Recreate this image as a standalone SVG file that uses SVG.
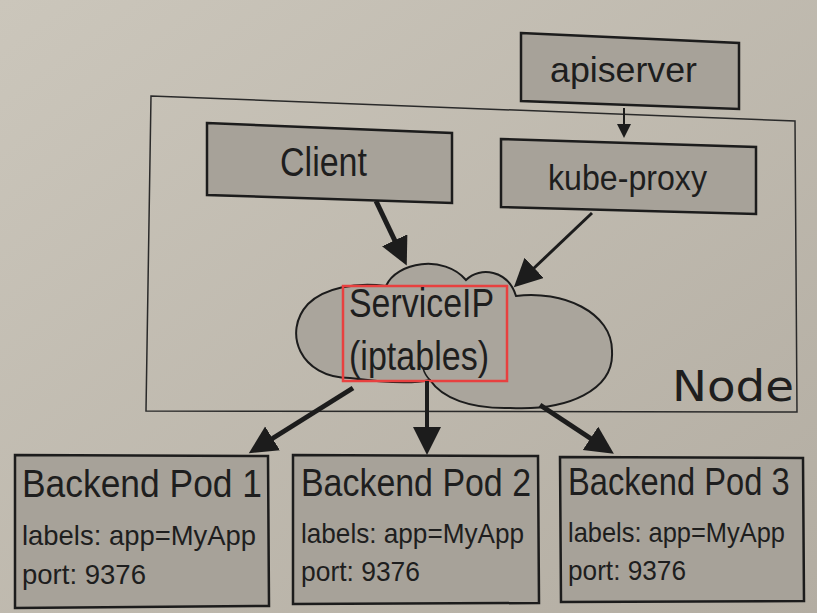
<svg xmlns="http://www.w3.org/2000/svg" width="817" height="613" viewBox="0 0 817 613">
<defs>
<linearGradient id="bg" x1="0" y1="0" x2="1" y2="1">
<stop offset="0" stop-color="#cbc6bb"/>
<stop offset="1" stop-color="#b3ada2"/>
</linearGradient>
<marker id="big" markerUnits="userSpaceOnUse" markerWidth="30" markerHeight="30" refX="3" refY="14" orient="auto">
<path d="M0,0 L28,14 L0,28 z" fill="#1c1c1c"/>
</marker>
<marker id="small" markerUnits="userSpaceOnUse" markerWidth="16" markerHeight="16" refX="2" refY="7" orient="auto">
<path d="M0,0 L14,7 L0,14 z" fill="#1c1c1c"/>
</marker>
</defs>
<style>
.box{fill:#a7a299;stroke:#1c1c1c;stroke-width:2.5}
.t{font-family:"Liberation Sans",Arial,sans-serif;fill:#1e1e1e}
.big{font-size:40px}
.pod{font-size:38px}
.mid{font-size:35px}
.sm{font-size:28px}
.conn{stroke:#1c1c1c;fill:none}
</style>
<rect x="0" y="0" width="817" height="613" fill="url(#bg)"/>

<g id="node-container">
<polygon points="151,96 795,121 797,412 146,411" fill="none" stroke="#2a2a2a" stroke-width="1.5"/>
<text x="672" y="401" font-size="42" textLength="122" lengthAdjust="spacingAndGlyphs" style="font-family:'DejaVu Sans',sans-serif;fill:#1e1e1e">Node</text>
</g>

<g id="apiserver">
<polygon class="box" points="521,33 739,43 739,109 521,101"/>
<text class="t mid" x="550" y="82" textLength="147" lengthAdjust="spacingAndGlyphs">apiserver</text>
</g>

<g id="client">
<polygon class="box" points="207,123 452,133 452,203 207,195"/>
<text class="t big" x="280" y="176" textLength="87" lengthAdjust="spacingAndGlyphs">Client</text>
</g>

<g id="kube-proxy">
<polygon class="box" points="501,139 756,147 756,214 501,207"/>
<text class="t mid" x="548" y="190" textLength="159" lengthAdjust="spacingAndGlyphs">kube-proxy</text>
</g>

<g id="serviceip">
<path d="M350,378 C300,378 282,332 308,304 C324,288 355,282 386,286 C396,262 444,254 466,280 C480,266 508,270 516,296 C562,290 613,312 612,352 C614,390 568,411 510,408 C470,409 442,398 430,380 C412,384 380,382 350,378 Z" fill="#aaa59c" stroke="#1c1c1c" stroke-width="2"/>
<path d="M430,380 C426,376 424,372 423,368" fill="none" stroke="#1c1c1c" stroke-width="1.5"/>
<rect x="343" y="286" width="164" height="95" fill="none" stroke="#e8403f" stroke-width="2.5"/>
<text class="t big" x="349" y="317" textLength="145" lengthAdjust="spacingAndGlyphs">ServiceIP</text>
<text class="t big" x="349" y="370" textLength="140" lengthAdjust="spacingAndGlyphs">(iptables)</text>
</g>

<g id="pod1">
<polygon class="box" points="15,455 268,456 269,606 15,608"/>
<text class="t pod" x="22" y="497" textLength="240" lengthAdjust="spacingAndGlyphs">Backend Pod 1</text>
<text class="t sm" x="22" y="545" textLength="234" lengthAdjust="spacingAndGlyphs">labels: app=MyApp</text>
<text class="t sm" x="22" y="584" textLength="124" lengthAdjust="spacingAndGlyphs">port: 9376</text>
</g>

<g id="pod2">
<polygon class="box" points="293,455 538,456 539,603 293,604"/>
<text class="t pod" x="301" y="496" textLength="230" lengthAdjust="spacingAndGlyphs">Backend Pod 2</text>
<text class="t sm" x="301" y="543" textLength="223" lengthAdjust="spacingAndGlyphs">labels: app=MyApp</text>
<text class="t sm" x="301" y="581" textLength="119" lengthAdjust="spacingAndGlyphs">port: 9376</text>
</g>

<g id="pod3">
<polygon class="box" points="560,457 803,458 804,601 561,602"/>
<text class="t pod" transform="translate(568,495) scale(0.86,1)" x="0" y="0">Backend Pod 3</text>
<text class="t sm" x="568" y="542" textLength="217" lengthAdjust="spacingAndGlyphs">labels: app=MyApp</text>
<text class="t sm" x="568" y="580" textLength="118" lengthAdjust="spacingAndGlyphs">port: 9376</text>
</g>

<g id="connectors">
<line class="conn" x1="624" y1="108" x2="624" y2="126" stroke-width="2" marker-end="url(#small)"/>
<line class="conn" x1="376" y1="201" x2="396" y2="243" stroke-width="5" marker-end="url(#big)"/>
<line class="conn" x1="592" y1="213" x2="532" y2="270" stroke-width="3" marker-end="url(#big)"/>
<line class="conn" x1="353" y1="388" x2="270" y2="440" stroke-width="5" marker-end="url(#big)"/>
<line class="conn" x1="427" y1="381" x2="427" y2="430" stroke-width="4" marker-end="url(#big)"/>
<line class="conn" x1="540" y1="405" x2="593" y2="440" stroke-width="5" marker-end="url(#big)"/>
</g>
</svg>
